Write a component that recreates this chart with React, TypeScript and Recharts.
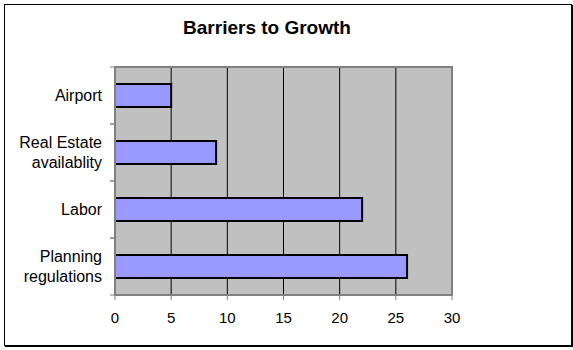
import React from "react";
import { BarChart, Bar, XAxis, YAxis, CartesianGrid, ReferenceArea, Customized } from "recharts";

const categories = ["Airport", "Real Estate\navailablity", "Labor", "Planning\nregulations"];
const values = [5, 9, 22, 26];
const xTicks = [0, 5, 10, 15, 20, 25, 30];
const title = "Barriers to Growth";

const data = categories.map((c, i) => ({ name: c, value: values[i] }));

const W = 573;
const H = 350;
const PLOT_LEFT = 115;
const PLOT_TOP = 67;
const PLOT_BOTTOM = 295;
const PLOT_RIGHT = 452;
const BAND = (PLOT_BOTTOM - PLOT_TOP) / categories.length;
const FONT = "Arial, 'Liberation Sans', sans-serif";

const YTick = (props: any) => {
  const { y, payload } = props;
  const lines = String(payload.value).split("\n");
  const lh = 20;
  const startY = y - ((lines.length - 1) * lh) / 2;
  return (
    <g>
      <line x1={PLOT_LEFT - 5} x2={PLOT_LEFT} y1={y - BAND / 2} y2={y - BAND / 2} stroke="#808080" strokeWidth={1} />
      <line x1={PLOT_LEFT - 5} x2={PLOT_LEFT} y1={y + BAND / 2} y2={y + BAND / 2} stroke="#808080" strokeWidth={1} />
      <text x={PLOT_LEFT - 13} y={startY} textAnchor="end" fontFamily={FONT} fontSize={16} fill="#000">
        {lines.map((l, i) => (
          <tspan key={i} x={PLOT_LEFT - 13} y={startY + i * lh} dy="0.36em">
            {l}
          </tspan>
        ))}
      </text>
    </g>
  );
};

const Title = () => (
  <text x={267} y={34} textAnchor="middle" fontFamily={FONT} fontSize={19} fontWeight="bold" fill="#000">
    {title}
  </text>
);

export default function App() {
  return (
    <div style={{ position: "absolute", left: 0, top: 0, width: W, height: H, background: "#fff" }}>
      <div
        style={{
          position: "absolute",
          left: 4,
          top: 4,
          width: 566,
          height: 340,
          border: "1px solid #000",
          boxShadow: "1px 1px 0 #000",
        }}
      />
      <div style={{ position: "absolute", left: 0, top: 0 }}>
        <BarChart
          width={W}
          height={H}
          data={data}
          layout="vertical"
          margin={{ top: PLOT_TOP, right: W - PLOT_RIGHT, bottom: 25, left: 0 }}
          barCategoryGap="30%"
        >
          <CartesianGrid horizontal={false} stroke="#000" strokeOpacity={1} fill="#C0C0C0" fillOpacity={1} />
          <XAxis
            type="number"
            domain={[0, 30]}
            ticks={xTicks}
            interval={0}
            height={30}
            tickSize={5}
            tickMargin={12}
            axisLine={{ stroke: "#808080", strokeWidth: 2 }}
            tickLine={{ stroke: "#808080" }}
            tick={{ fontFamily: FONT, fontSize: 15, fill: "#000" }}
          />
          <YAxis
            type="category"
            dataKey="name"
            width={PLOT_LEFT}
            tickLine={false}
            axisLine={{ stroke: "#808080", strokeWidth: 2 }}
            tick={<YTick />}
            interval={0}
          />
          <ReferenceArea x1={0} x2={30} fill="none" fillOpacity={0} stroke="#808080" strokeWidth={2} />
          <Bar dataKey="value" fill="#9999FF" stroke="#000" strokeWidth={2} barSize={23} isAnimationActive={false} />
          <Customized component={Title} />
        </BarChart>
      </div>
    </div>
  );
}
